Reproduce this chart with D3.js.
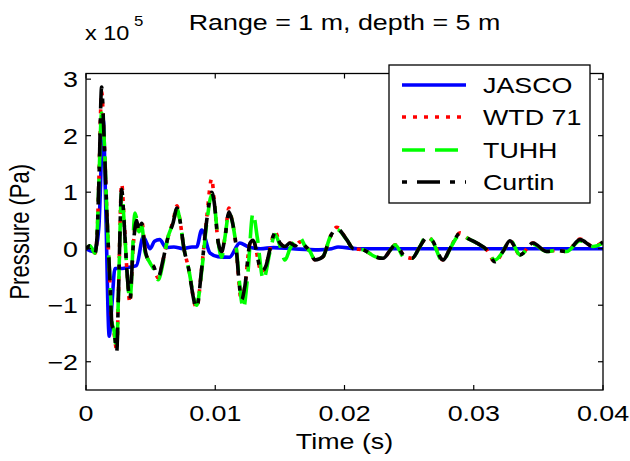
<!DOCTYPE html>
<html><head><meta charset="utf-8">
<script src="https://cdn.jsdelivr.net/npm/d3@7"></script>
<style>html,body{margin:0;padding:0;background:#fff;}svg{display:block;}</style>
</head><body>
<svg id="chart" width="630" height="461"></svg>
<script>
// ---- data (pressure in units of 1e5 Pa, time in s) ----
const xTicks = [0, 0.01, 0.02, 0.03, 0.04];
const xTickLabels = ["0", "0.01", "0.02", "0.03", "0.04"];
const yTicks = [-2, -1, 0, 1, 2, 3];
const yTickLabels = ["\u22122", "\u22121", "0", "1", "2", "3"];
const seriesNames = ["JASCO", "WTD 71", "TUHH", "Curtin"];

const jascoT = [0, 0.0005, 0.0008, 0.001, 0.00134, 0.0015, 0.0018, 0.002, 0.00224, 0.0028, 0.0033, 0.0039, 0.00443, 0.0047, 0.00495, 0.0053, 0.0057, 0.0062, 0.0068, 0.0075, 0.0082, 0.00856, 0.00895, 0.0096, 0.0102, 0.0111, 0.0119, 0.0125, 0.0135, 0.0145, 0.016, 0.018, 0.019, 0.0195, 0.021, 0.025, 0.03, 0.035, 0.04];
const jascoP = [0, -0.05, 0.05, 0.4, 2.28, 1.0, -1.55, -1.0, -0.35, -0.35, -0.33, -0.3, 0.21, 0.1, 0.0, 0.13, 0.16, 0.02, 0.03, 0.0, 0.03, 0.03, 0.33, -0.08, -0.14, -0.15, 0.1, 0.04, 0.0, 0.02, 0.0, -0.02, 0.0, 0.03, 0.0, 0.0, 0.0, 0.0, 0.0];

const curtinT = [0, 0.0003, 0.0007, 0.00085, 0.001, 0.00121, 0.00139, 0.00162, 0.00186, 0.00201, 0.00217, 0.00238, 0.00251, 0.00276, 0.00294, 0.00317, 0.0034, 0.00364, 0.00392, 0.0041, 0.00431, 0.00456, 0.00495, 0.00521, 0.00559, 0.00596, 0.00634, 0.00673, 0.00704, 0.00727, 0.00758, 0.00789, 0.00856, 0.00895, 0.00934, 0.00973, 0.0099, 0.01024, 0.0105, 0.01075, 0.01106, 0.0113, 0.01153, 0.01205, 0.0123, 0.01269, 0.01292, 0.01359, 0.01393, 0.01424, 0.01462, 0.01501, 0.0154, 0.01578, 0.01617, 0.01656, 0.01694, 0.01733, 0.01772, 0.01834, 0.01888, 0.0194, 0.02017, 0.02068, 0.02145, 0.02236, 0.02298, 0.02365, 0.02391, 0.02468, 0.02522, 0.02584, 0.02638, 0.02677, 0.02762, 0.02816, 0.02894, 0.02956, 0.03023, 0.031, 0.03164, 0.03226, 0.0328, 0.03358, 0.03458, 0.03564, 0.03636, 0.03719, 0.03822, 0.03923, 0.04];
const curtinP = [0, 0.05, -0.08, 0.2, 1.2, 2.86, 2.0, 0.6, -0.6, -1.35, -1.45, -1.82, -0.8, 1.05, 0.5, -0.4, -0.9, 0.0, 0.5, 0.3, 0.45, 0.0, -0.25, -0.3, -0.5, -0.2, 0.2, 0.45, 0.72, 0.5, 0.0, -0.3, -1.05, -0.35, 0.5, 1.0, 0.85, 0.1, -0.05, 0.2, 0.65, 0.5, 0.2, -0.9, -0.65, 0.1, 0.15, -0.4, -0.3, 0.0, 0.28, 0.1, 0.04, 0.1, 0.05, 0.12, 0.05, -0.05, -0.2, -0.14, 0.2, 0.36, 0.16, 0.0, -0.02, -0.14, -0.17, 0.01, 0.07, -0.14, -0.17, 0.04, 0.2, 0.15, -0.2, 0.0, 0.27, 0.18, 0.1, -0.02, -0.23, -0.05, 0.14, -0.11, 0.1, -0.05, -0.03, -0.05, 0.16, 0.04, 0.12];

const wtdT = [0, 0.0003, 0.0007, 0.00085, 0.001, 0.00121, 0.00139, 0.00162, 0.00186, 0.00201, 0.00217, 0.00238, 0.00251, 0.00276, 0.00294, 0.00317, 0.0034, 0.00364, 0.00392, 0.0041, 0.00431, 0.00456, 0.00495, 0.00521, 0.00559, 0.00596, 0.00634, 0.00673, 0.00704, 0.00727, 0.00758, 0.00789, 0.00856, 0.00895, 0.00934, 0.00973, 0.0099, 0.01024, 0.0105, 0.01075, 0.01106, 0.0113, 0.01153, 0.01205, 0.0123, 0.01269, 0.01292, 0.01359, 0.01393, 0.01424, 0.01462, 0.01501, 0.0154, 0.01578, 0.01617, 0.01656, 0.01694, 0.01733, 0.01772, 0.01834, 0.01888, 0.0194, 0.02017, 0.02068, 0.02145, 0.02236, 0.02298, 0.02365, 0.02391, 0.02468, 0.02522, 0.02584, 0.02638, 0.02677, 0.02762, 0.02816, 0.02894, 0.02956, 0.03023, 0.031, 0.03164, 0.03226, 0.0328, 0.03358, 0.03458, 0.03564, 0.03636, 0.03719, 0.03822, 0.03923, 0.04];
const wtdP = [0, 0.05, -0.08, 0.2, 1.25, 2.78, 2.0, 0.6, -0.65, -1.35, -1.5, -1.8, -0.8, 1.15, 0.55, -0.4, -0.95, 0.0, 0.55, 0.3, 0.5, 0.0, -0.25, -0.32, -0.52, -0.2, 0.2, 0.48, 0.76, 0.5, 0.0, -0.3, -1.05, -0.35, 0.55, 1.24, 0.9, 0.1, -0.05, 0.2, 0.72, 0.5, 0.2, -0.95, -0.65, 0.1, 0.15, -0.42, -0.3, 0.0, 0.3, 0.1, 0.04, 0.1, 0.05, 0.12, 0.05, -0.05, -0.2, -0.14, 0.2, 0.38, 0.16, 0.0, -0.02, -0.14, -0.17, 0.01, 0.07, -0.14, -0.17, 0.04, 0.2, 0.15, -0.2, 0.0, 0.28, 0.18, 0.1, -0.02, -0.23, -0.05, 0.14, -0.11, 0.1, -0.05, -0.03, -0.05, 0.17, 0.04, 0.12];

const tuhhT = [0, 0.0003, 0.0007, 0.00085, 0.001, 0.00121, 0.00139, 0.00162, 0.00186, 0.00201, 0.00217, 0.00238, 0.00251, 0.00276, 0.00294, 0.00317, 0.0034, 0.00379, 0.0041, 0.00431, 0.00456, 0.00495, 0.00521, 0.00559, 0.00596, 0.00634, 0.00673, 0.00704, 0.00727, 0.00758, 0.00789, 0.00856, 0.00895, 0.00934, 0.00973, 0.0099, 0.01024, 0.0105, 0.01075, 0.01106, 0.0113, 0.01153, 0.01218, 0.0125, 0.01292, 0.01325, 0.01372, 0.01424, 0.01462, 0.01501, 0.0154, 0.01578, 0.01656, 0.01694, 0.01733, 0.01772, 0.01834, 0.01888, 0.0194, 0.02017, 0.02068, 0.02145, 0.02236, 0.02298, 0.02365, 0.02391, 0.02468, 0.02522, 0.02584, 0.02638, 0.02677, 0.02762, 0.02816, 0.02894, 0.02956, 0.03023, 0.031, 0.03164, 0.03226, 0.0328, 0.03358, 0.03458, 0.03564, 0.03636, 0.03719, 0.03822, 0.03923, 0.04];
const tuhhP = [0, 0.05, -0.08, 0.2, 1.2, 2.4, 2.0, 0.6, -0.6, -1.3, -1.45, -1.78, -0.8, 1.0, 0.5, -0.4, -0.9, 0.63, 0.3, 0.4, -0.05, -0.25, -0.35, -0.55, -0.25, 0.2, 0.45, 0.7, 0.5, 0.0, -0.3, -1.0, -0.4, 0.45, 0.95, 0.85, 0.1, -0.15, 0.2, 0.63, 0.5, 0.2, -1.06, -0.5, 0.63, 0.2, -0.55, -0.05, 0.25, 0.05, -0.2, 0.0, 0.19, 0.05, -0.05, -0.2, -0.14, 0.2, 0.34, 0.16, 0.0, -0.02, -0.14, -0.17, 0.01, 0.07, -0.17, -0.17, 0.04, 0.24, 0.15, -0.23, 0.0, 0.24, 0.18, 0.1, -0.02, -0.2, -0.05, 0.16, -0.11, 0.08, -0.05, -0.03, -0.05, 0.14, 0.04, 0.1];

// ---- layout ----
const svg = d3.select("#chart");
const mLeft = 86, mRight = 603, mTop = 73.5, mBottom = 390;
const FONT = "'Liberation Sans', Arial, Helvetica, sans-serif";
const FS = 22, SX = 1.22;

const x = d3.scaleLinear().domain([0, 0.04]).range([mLeft, mRight]);
const y = d3.scaleLinear().domain([-2.5, 3.1]).range([mBottom, mTop]);

function txt(g, px, py, str, anchor, rot, size, sx) {
  const k = sx || SX;
  return g.append("text")
    .attr("transform", rot ? `translate(${px},${py}) rotate(-90) scale(1,${k})` : `translate(${px},${py}) scale(${k},1)`)
    .attr("text-anchor", anchor || "start")
    .attr("font-family", FONT).attr("font-size", size || FS).attr("fill", "#000")
    .text(str);
}

svg.append("defs").append("clipPath").attr("id", "clip")
  .append("rect").attr("x", mLeft).attr("y", mTop).attr("width", mRight - mLeft).attr("height", mBottom - mTop);

const styles = [
  {color: "#0000ff", dash: null, width: 3.6, off: 0},
  {color: "#ff0000", dash: "4,7", width: 3.6, off: 0},
  {color: "#00ff00", dash: "23,10", width: 3.6, off: 0},
  {color: "#000000", dash: "23,10,5,10", width: 3.6, off: 33}
];
const seriesData = [
  d3.zip(jascoT, jascoP),
  d3.zip(wtdT, wtdP),
  d3.zip(tuhhT, tuhhP),
  d3.zip(curtinT, curtinP)
];

const line = d3.line().x(d => x(d[0])).y(d => y(d[1])).curve(d3.curveMonotoneX);
const plot = svg.append("g").attr("clip-path", "url(#clip)");
seriesData.forEach((data, i) => {
  const s = styles[i];
  plot.append("path").datum(data)
    .attr("d", line)
    .attr("fill", "none")
    .attr("stroke", s.color)
    .attr("stroke-width", s.width)
    .attr("stroke-linejoin", "round")
    .attr("stroke-dasharray", s.dash)
    .attr("stroke-dashoffset", s.off);
});

const axg = svg.append("g");
axg.append("rect").attr("x", mLeft).attr("y", mTop).attr("width", mRight - mLeft).attr("height", mBottom - mTop)
  .attr("fill", "none").attr("stroke", "#000").attr("stroke-width", 1.3);

const tickLen = 5;
xTicks.forEach((v, i) => {
  const px = x(v);
  axg.append("line").attr("x1", px).attr("x2", px).attr("y1", mBottom).attr("y2", mBottom - tickLen).attr("stroke", "#000").attr("stroke-width", 1.2);
  axg.append("line").attr("x1", px).attr("x2", px).attr("y1", mTop).attr("y2", mTop + tickLen).attr("stroke", "#000").attr("stroke-width", 1.2);
  txt(axg, px, 421, xTickLabels[i], "middle");
});
yTicks.forEach((v, i) => {
  const py = y(v);
  axg.append("line").attr("x1", mLeft).attr("x2", mLeft + tickLen).attr("y1", py).attr("y2", py).attr("stroke", "#000").attr("stroke-width", 1.2);
  axg.append("line").attr("x1", mRight).attr("x2", mRight - tickLen).attr("y1", py).attr("y2", py).attr("stroke", "#000").attr("stroke-width", 1.2);
  txt(axg, 78, py + 8, yTickLabels[i], "end");
});

txt(svg, (mLeft + mRight) / 2, 449, "Time (s)", "middle");
txt(svg, 29, (mTop + mBottom) / 2, "Pressure (Pa)", "middle", true);
txt(svg, (mLeft + mRight) / 2, 30, "Range = 1 m, depth = 5 m", "middle");
txt(svg, 85, 40, "x 10", "start", false, 21, 1.12);
txt(svg, 134, 26, "5", "start", false, 15, 1.12);

const lg = svg.append("g");
lg.append("rect").attr("x", 389).attr("y", 65).attr("width", 201).attr("height", 138)
  .attr("fill", "#fff").attr("stroke", "#000").attr("stroke-width", 1.3);
const legY = [85, 117, 150, 182];
seriesNames.forEach((name, i) => {
  const s = styles[i];
  lg.append("line").attr("x1", 402).attr("x2", 466).attr("y1", legY[i]).attr("y2", legY[i])
    .attr("stroke", s.color).attr("stroke-width", s.width)
    .attr("stroke-dasharray", s.dash).attr("stroke-dashoffset", s.off);
  txt(lg, 483, legY[i] + 8, name, "start");
});
</script>
</body></html>
